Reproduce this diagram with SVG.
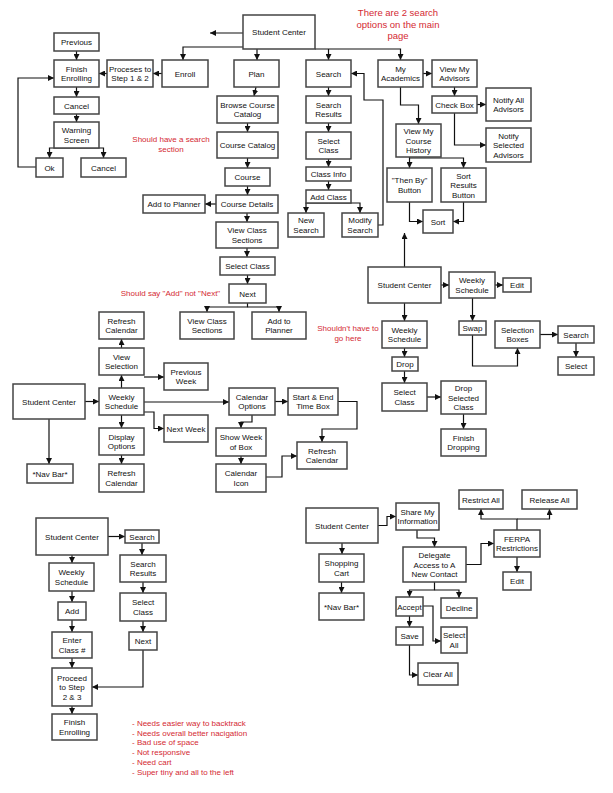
<svg xmlns="http://www.w3.org/2000/svg" width="613" height="793" viewBox="0 0 613 793">
<style>
rect{fill:#fff;stroke:#444;stroke-width:1.5}
text{font-family:"Liberation Sans",Arial,sans-serif;font-size:8px;text-anchor:middle;fill:#111}
.r{fill:#d42a33}
.r9{fill:#d42a33;font-size:9.5px}
.l{text-anchor:start}
#connectors path{fill:none;stroke:#111;stroke-width:1.2;marker-end:url(#ah)}
</style>
<defs>
<marker id="ah" markerUnits="userSpaceOnUse" markerWidth="7" markerHeight="6" refX="6" refY="3" orient="auto"><path d="M0,0 L6,3 L0,6 z" fill="#111"/></marker>
</defs>
<rect x="0" y="0" width="613" height="793" style="fill:#fff;stroke:none"/>
<g id="connectors">
<path d="M243 47 H183 V60"/>
<path d="M243 33 H210"/>
<path d="M257 49 V60"/>
<path d="M315 49 H400.5 V60"/>
<path d="M328.5 49 V60"/>
<path d="M162 73.5 H153"/>
<path d="M107 73.5 H99"/>
<path d="M76.5 51 V60"/>
<path d="M76.5 87 V97"/>
<path d="M76.5 114 V122"/>
<path d="M76.5 148 H49.5 V158"/>
<path d="M76.5 148 H103.5 V158"/>
<path d="M36 167 H18 V78 H54"/>
<path d="M256 87 L254 96"/>
<path d="M247.5 123 V132"/>
<path d="M247.5 158 V168"/>
<path d="M247.5 186 V195"/>
<path d="M216 204 H205"/>
<path d="M247 213 V222"/>
<path d="M247 248 V257"/>
<path d="M247.5 275 V284"/>
<path d="M247.5 303 V307 H207 V312"/>
<path d="M247.5 307 H279 V312"/>
<path d="M328.5 87 V96"/>
<path d="M328.5 123 V132"/>
<path d="M328.5 159 V167"/>
<path d="M328.5 181 V190"/>
<path d="M328.5 203 H306 V213"/>
<path d="M328.5 203 H360 V213"/>
<path d="M378 225 H383 V100 H364 V73.5 H351"/>
<path d="M423 73.5 H432"/>
<path d="M454.5 87 V96"/>
<path d="M477 104.5 H486"/>
<path d="M454.5 113 V145 H486"/>
<path d="M400.5 87 V105 H418.5 V124"/>
<path d="M409.5 157 V168"/>
<path d="M409.5 158 H463.5 V168"/>
<path d="M409.5 202 V221.5 H423"/>
<path d="M463.5 202 V221.5 H453"/>
<path d="M404.5 267 V233"/>
<path d="M441 285 H449"/>
<path d="M495 285 H503"/>
<path d="M472.5 298 V321"/>
<path d="M472.5 335 V366 H517.5 V348"/>
<path d="M540 334.5 H558"/>
<path d="M576 343 V357"/>
<path d="M404.5 303 V321"/>
<path d="M404.5 348 V357"/>
<path d="M404.5 371 V383"/>
<path d="M427 397 H441"/>
<path d="M463.5 414 V429"/>
<path d="M85 401.5 H99"/>
<path d="M121.5 388 V375"/>
<path d="M121.5 348 V339"/>
<path d="M144 377 H164"/>
<path d="M144 402 H229"/>
<path d="M144 412 H154 V428.5 H164"/>
<path d="M121.5 415 V428"/>
<path d="M121.5 455 V464"/>
<path d="M49 419 V464"/>
<path d="M275 401.5 H288"/>
<path d="M338 401.5 H357 V429 H322 V442"/>
<path d="M252 415 V422 H241 V428"/>
<path d="M241 456 V464"/>
<path d="M266 477 H282 V456 H297"/>
<path d="M108 536.5 H125"/>
<path d="M142 543 V555"/>
<path d="M143 582 V593"/>
<path d="M143 621 V632"/>
<path d="M143 650 V687 H92"/>
<path d="M72 555 V563"/>
<path d="M72 591 V602"/>
<path d="M72 620 V632"/>
<path d="M72 658 V668"/>
<path d="M72 706 V714"/>
<path d="M378 525.5 H387 V516.5 H396"/>
<path d="M417 530 V538 H434.5 V547"/>
<path d="M466 564.5 H481 V543.5 H494"/>
<path d="M517 530 V519 H481 V509"/>
<path d="M517 519 H549.5 V509"/>
<path d="M517 557 V572"/>
<path d="M342 543 V554"/>
<path d="M341.5 582 V593"/>
<path d="M434.5 582 V590 H409.5 V597"/>
<path d="M434.5 590 H459 V598"/>
<path d="M409.5 616 V627"/>
<path d="M423 606 H433 V641 H441"/>
<path d="M409.5 645 V675 H418"/>
</g>
<g id="n1"><rect x="243" y="15" width="72" height="34"/><text x="279" y="35">Student Center</text></g>
<g id="n2"><rect x="54" y="33" width="45" height="18"/><text x="76.5" y="45">Previous</text></g>
<g id="n3"><rect x="54" y="60" width="45" height="27"/><text x="76.5" y="71.7">Finish</text><text x="76.5" y="81.2">Enrolling</text></g>
<g id="n3a"><rect x="54" y="97" width="45" height="17"/><text x="76.5" y="108.5">Cancel</text></g>
<g id="n3b"><rect x="54" y="122" width="45" height="26"/><text x="76.5" y="133.2">Warning</text><text x="76.5" y="142.7">Screen</text></g>
<g id="n3c"><rect x="36" y="158" width="27" height="19"/><text x="49.5" y="170.5">Ok</text></g>
<g id="n3d"><rect x="81" y="158" width="45" height="19"/><text x="103.5" y="170.5">Cancel</text></g>
<g id="n4"><rect x="107" y="60" width="46" height="27"/><text x="130" y="71.7">Proceses to</text><text x="130" y="81.2">Step 1 &amp; 2</text></g>
<g id="n5"><rect x="162" y="60" width="46" height="27"/><text x="185" y="76.5">Enroll</text></g>
<g id="n6"><rect x="234" y="60" width="45" height="27"/><text x="256.5" y="76.5">Plan</text></g>
<g id="n7"><rect x="306" y="60" width="45" height="27"/><text x="328.5" y="76.5">Search</text></g>
<g id="n8"><rect x="378" y="60" width="45" height="27"/><text x="400.5" y="71.7">My</text><text x="400.5" y="81.2">Academics</text></g>
<g id="n9"><rect x="432" y="60" width="45" height="27"/><text x="454.5" y="71.7">View My</text><text x="454.5" y="81.2">Advisors</text></g>
<g id="n10"><rect x="432" y="96" width="45" height="17"/><text x="454.5" y="107.5">Check Box</text></g>
<g id="n11"><rect x="486" y="88" width="45" height="33"/><text x="508.5" y="102.7">Notify All</text><text x="508.5" y="112.2">Advisors</text></g>
<g id="n12"><rect x="486" y="128" width="45" height="34"/><text x="508.5" y="138.5">Notify</text><text x="508.5" y="148">Selected</text><text x="508.5" y="157.5">Advisors</text></g>
<g id="n13"><rect x="396" y="124" width="45" height="33"/><text x="418.5" y="134">View My</text><text x="418.5" y="143.5">Course</text><text x="418.5" y="153">History</text></g>
<g id="n14"><rect x="387" y="168" width="45" height="34"/><text x="409.5" y="183">"Then By"</text><text x="409.5" y="192.5">Button</text></g>
<g id="n15"><rect x="441" y="168" width="45" height="34"/><text x="463.5" y="178.5">Sort</text><text x="463.5" y="188">Results</text><text x="463.5" y="197.5">Button</text></g>
<g id="n16"><rect x="423" y="210" width="30" height="23"/><text x="438" y="224.5">Sort</text></g>
<g id="n17"><rect x="217" y="96" width="61" height="27"/><text x="247.5" y="107.7">Browse Course</text><text x="247.5" y="117.2">Catalog</text></g>
<g id="n18"><rect x="217" y="132" width="61" height="26"/><text x="247.5" y="148">Course Catalog</text></g>
<g id="n19"><rect x="225" y="168" width="45" height="18"/><text x="247.5" y="180">Course</text></g>
<g id="n20"><rect x="216" y="195" width="62" height="18"/><text x="247" y="207">Course Details</text></g>
<g id="n21"><rect x="143" y="195" width="62" height="18"/><text x="174" y="207">Add to Planner</text></g>
<g id="n22"><rect x="216" y="222" width="62" height="26"/><text x="247" y="233.2">View Class</text><text x="247" y="242.7">Sections</text></g>
<g id="n23"><rect x="220" y="257" width="55" height="18"/><text x="247.5" y="269">Select Class</text></g>
<g id="n24"><rect x="229" y="284" width="37" height="19"/><text x="247.5" y="296.5">Next</text></g>
<g id="n25"><rect x="180" y="312" width="54" height="27"/><text x="207" y="323.7">View Class</text><text x="207" y="333.2">Sections</text></g>
<g id="n26"><rect x="252" y="312" width="54" height="27"/><text x="279" y="323.7">Add to</text><text x="279" y="333.2">Planner</text></g>
<g id="n27"><rect x="306" y="96" width="45" height="27"/><text x="328.5" y="107.7">Search</text><text x="328.5" y="117.2">Results</text></g>
<g id="n28"><rect x="306" y="132" width="45" height="27"/><text x="328.5" y="143.7">Select</text><text x="328.5" y="153.2">Class</text></g>
<g id="n29"><rect x="306" y="167" width="45" height="14"/><text x="328.5" y="177">Class Info</text></g>
<g id="n30"><rect x="306" y="190" width="45" height="13"/><text x="328.5" y="199.5">Add Class</text></g>
<g id="n31"><rect x="288" y="213" width="36" height="24"/><text x="306" y="223.2">New</text><text x="306" y="232.7">Search</text></g>
<g id="n32"><rect x="342" y="213" width="36" height="24"/><text x="360" y="223.2">Modify</text><text x="360" y="232.7">Search</text></g>
<g id="n33"><rect x="368" y="267" width="73" height="36"/><text x="404.5" y="288">Student Center</text></g>
<g id="n34"><rect x="449" y="272" width="46" height="26"/><text x="472" y="283.2">Weekly</text><text x="472" y="292.7">Schedule</text></g>
<g id="n35"><rect x="503" y="278" width="28" height="14"/><text x="517" y="288">Edit</text></g>
<g id="n36"><rect x="459" y="321" width="27" height="14"/><text x="472.5" y="331">Swap</text></g>
<g id="n37"><rect x="495" y="321" width="45" height="27"/><text x="517.5" y="332.7">Selection</text><text x="517.5" y="342.2">Boxes</text></g>
<g id="n38"><rect x="558" y="326" width="36" height="17"/><text x="576" y="337.5">Search</text></g>
<g id="n39"><rect x="558" y="357" width="36" height="18"/><text x="576" y="369">Select</text></g>
<g id="n40"><rect x="382" y="321" width="45" height="27"/><text x="404.5" y="332.7">Weekly</text><text x="404.5" y="342.2">Schedule</text></g>
<g id="n41"><rect x="392" y="357" width="26" height="14"/><text x="405" y="367">Drop</text></g>
<g id="n42"><rect x="382" y="383" width="45" height="28"/><text x="404.5" y="395.2">Select</text><text x="404.5" y="404.7">Class</text></g>
<g id="n43"><rect x="441" y="381" width="45" height="33"/><text x="463.5" y="391">Drop</text><text x="463.5" y="400.5">Selected</text><text x="463.5" y="410">Class</text></g>
<g id="n44"><rect x="441" y="429" width="45" height="27"/><text x="463.5" y="440.7">Finish</text><text x="463.5" y="450.2">Dropping</text></g>
<g id="n45"><rect x="13" y="384" width="72" height="35"/><text x="49" y="404.5">Student Center</text></g>
<g id="n46"><rect x="99" y="388" width="45" height="27"/><text x="121.5" y="399.7">Weekly</text><text x="121.5" y="409.2">Schedule</text></g>
<g id="n47"><rect x="99" y="348" width="45" height="27"/><text x="121.5" y="359.7">View</text><text x="121.5" y="369.2">Selection</text></g>
<g id="n48"><rect x="99" y="312" width="45" height="27"/><text x="121.5" y="323.7">Refresh</text><text x="121.5" y="333.2">Calendar</text></g>
<g id="n49"><rect x="164" y="363" width="44" height="27"/><text x="186" y="374.7">Previous</text><text x="186" y="384.2">Week</text></g>
<g id="n50"><rect x="164" y="415" width="44" height="27"/><text x="186" y="431.5">Next Week</text></g>
<g id="n51"><rect x="99" y="428" width="45" height="27"/><text x="121.5" y="439.7">Display</text><text x="121.5" y="449.2">Options</text></g>
<g id="n52"><rect x="99" y="464" width="45" height="28"/><text x="121.5" y="476.2">Refresh</text><text x="121.5" y="485.7">Calendar</text></g>
<g id="n53"><rect x="27" y="464" width="46" height="19"/><text x="50" y="476.5">*Nav Bar*</text></g>
<g id="n54"><rect x="229" y="388" width="46" height="27"/><text x="252" y="399.7">Calendar</text><text x="252" y="409.2">Options</text></g>
<g id="n55"><rect x="288" y="388" width="50" height="27"/><text x="313" y="399.7">Start &amp; End</text><text x="313" y="409.2">Time Box</text></g>
<g id="n56"><rect x="297" y="442" width="50" height="27"/><text x="322" y="453.7">Refresh</text><text x="322" y="463.2">Calendar</text></g>
<g id="n57"><rect x="216" y="428" width="50" height="28"/><text x="241" y="440.2">Show Week</text><text x="241" y="449.7">of Box</text></g>
<g id="n58"><rect x="216" y="464" width="50" height="28"/><text x="241" y="476.2">Calendar</text><text x="241" y="485.7">Icon</text></g>
<g id="n59"><rect x="36" y="518" width="72" height="37"/><text x="72" y="539.5">Student Center</text></g>
<g id="n60"><rect x="125" y="530" width="34" height="13"/><text x="142" y="539.5">Search</text></g>
<g id="n61"><rect x="120" y="555" width="46" height="27"/><text x="143" y="566.7">Search</text><text x="143" y="576.2">Results</text></g>
<g id="n62"><rect x="120" y="593" width="46" height="28"/><text x="143" y="605.2">Select</text><text x="143" y="614.7">Class</text></g>
<g id="n63"><rect x="129" y="632" width="28" height="18"/><text x="143" y="644">Next</text></g>
<g id="n64"><rect x="49" y="563" width="45" height="28"/><text x="71.5" y="575.2">Weekly</text><text x="71.5" y="584.7">Schedule</text></g>
<g id="n65"><rect x="58" y="602" width="28" height="18"/><text x="72" y="614">Add</text></g>
<g id="n66"><rect x="52" y="632" width="40" height="26"/><text x="72" y="643.2">Enter</text><text x="72" y="652.7">Class #</text></g>
<g id="n67"><rect x="52" y="668" width="40" height="38"/><text x="72" y="680.5">Proceed</text><text x="72" y="690">to Step</text><text x="72" y="699.5">2 &amp; 3</text></g>
<g id="n68"><rect x="52" y="714" width="45" height="26"/><text x="74.5" y="725.2">Finish</text><text x="74.5" y="734.7">Enrolling</text></g>
<g id="n69"><rect x="306" y="508" width="72" height="35"/><text x="342" y="528.5">Student Center</text></g>
<g id="n70"><rect x="396" y="503" width="43" height="27"/><text x="417.5" y="514.7">Share My</text><text x="417.5" y="524.2">Information</text></g>
<g id="n71"><rect x="403" y="547" width="63" height="35"/><text x="434.5" y="558">Delegate</text><text x="434.5" y="567.5">Access to A</text><text x="434.5" y="577">New Contact</text></g>
<g id="n72"><rect x="494" y="530" width="46" height="27"/><text x="517" y="541.7">FERPA</text><text x="517" y="551.2">Restrictions</text></g>
<g id="n73"><rect x="459" y="490" width="44" height="19"/><text x="481" y="502.5">Restrict All</text></g>
<g id="n74"><rect x="522" y="490" width="55" height="19"/><text x="549.5" y="502.5">Release All</text></g>
<g id="n75"><rect x="503" y="572" width="28" height="18"/><text x="517" y="584">Edit</text></g>
<g id="n76"><rect x="319" y="554" width="45" height="28"/><text x="341.5" y="566.2">Shopping</text><text x="341.5" y="575.7">Cart</text></g>
<g id="n77"><rect x="319" y="593" width="45" height="27"/><text x="341.5" y="609.5">*Nav Bar*</text></g>
<g id="n78"><rect x="396" y="597" width="27" height="19"/><text x="409.5" y="609.5">Accept</text></g>
<g id="n79"><rect x="441" y="598" width="36" height="20"/><text x="459" y="611">Decline</text></g>
<g id="n80"><rect x="396" y="627" width="27" height="18"/><text x="409.5" y="639">Save</text></g>
<g id="n81"><rect x="441" y="627" width="26" height="26"/><text x="454" y="638.2">Select</text><text x="454" y="647.7">All</text></g>
<g id="n82"><rect x="418" y="663" width="40" height="22"/><text x="438" y="677">Clear All</text></g>
<g id="notes">
<text class="r9" x="398" y="16">There are 2 search</text>
<text class="r9" x="398" y="27.5">options on the main</text>
<text class="r9" x="398" y="39">page</text>
<text class="r" x="171" y="142">Should have a search</text>
<text class="r" x="171" y="152">section</text>
<text class="r" x="170.5" y="296">Should say "Add" not "Next"</text>
<text class="r" x="348" y="331">Shouldn't have to</text>
<text class="r" x="348" y="340.5">go here</text>
<text class="r l" x="132" y="726">- Needs easier way to backtrack</text>
<text class="r l" x="132" y="735.7">- Needs overall better nacigation</text>
<text class="r l" x="132" y="745.4">- Bad use of space</text>
<text class="r l" x="132" y="755.1">- Not responsive</text>
<text class="r l" x="132" y="764.8">- Need cart</text>
<text class="r l" x="132" y="774.5">- Super tiny and all to the left</text>
</g>
</svg>
